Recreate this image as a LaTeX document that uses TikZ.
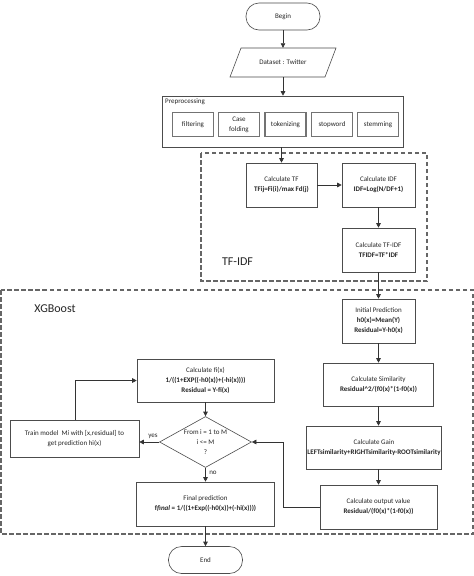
\documentclass[tikz,border=0pt]{standalone}
\usepackage{fontspec}
\setmainfont{Carlito}
\usetikzlibrary{arrows.meta,shapes.geometric,calc}
\newcommand\fsz{\fontsize{7}{10}\selectfont}
\begin{document}
\begin{tikzpicture}[x=1pt,y=-1pt,
  box/.style={draw=black!70, line width=0.6pt, fill=white, align=center, font=\fsz, inner sep=1pt, text=black!85},
  pbox/.style={draw=black!55, line width=1.5pt, fill=white, align=center, font=\fsz, inner sep=1pt, text=black!85, minimum width=41pt, minimum height=24pt},
  term/.style={draw=black!70, line width=0.6pt, fill=white, rounded corners=13pt, font=\fsz, minimum width=74pt, minimum height=27pt, text=black!85},
  dia/.style={draw=black!70, line width=0.6pt, fill=white, diamond, aspect=1.84, align=center, font=\fsz, inner sep=0pt, minimum width=92pt, minimum height=51pt, text=black!85},
  arr/.style={-{Triangle[length=4.5pt,width=4.5pt]}, draw=black!80, line width=0.6pt},
  grp/.style={draw=black!60, dash pattern=on 4.5pt off 2.5pt, line width=1.1pt},
  lab/.style={font=\fontsize{12}{14}\selectfont, text=black!85},
  small/.style={font=\fsz, text=black!85}
]
\useasboundingbox (0,0) rectangle (474,576);
\fill[white] (0,0) rectangle (474,576);

% groups
\draw[grp] (201,153) rectangle (427,281);
\draw[grp] (1,290) rectangle (473,534);
\node[lab] (tfidflab) at (237.5,262) {TF-IDF};
\node[lab] (xgblab) at (55,309) {XGBoost};

% top
\node[term] (begin) at (283,16.5) {Begin};
\draw[draw=black!70, line width=0.6pt, fill=white] (241,48)--(336,48)--(325,77)--(230,77)--cycle;
\node[small, minimum width=95pt, minimum height=29pt] (ds) at (283,62.5) {Dataset : Twitter};

\node[draw=black!70, line width=0.6pt, minimum width=241pt, minimum height=51pt] (pre) at (282.5,121.5) {};
\node[small, anchor=north west, inner sep=0pt] (prelab) at (165,98) {Preprocessing};
\node[pbox] (p1) at (193,124.5) {filtering};
\node[pbox] (p2) at (239,124.5) {Case\\folding};
\node[pbox] (p3) at (285.5,124.5) {tokenizing};
\node[pbox] (p4) at (332,124.5) {stopword};
\node[pbox] (p5) at (378,124.5) {stemming};

% TF-IDF
\node[box, minimum width=71pt, minimum height=44pt] (tf) at (281.5,185) {Calculate TF\\\textbf{TFij=Fi(i)/max Fd(j)}};
\node[box, minimum width=73pt, minimum height=44pt] (idf) at (378.5,185) {Calculate IDF\\\textbf{IDF=Log(N/DF+1)}};
\node[box, minimum width=73pt, minimum height=44pt] (tfidf) at (378.5,250) {Calculate TF-IDF\\\textbf{TFIDF=TF*IDF}};

% XGBoost right column
\node[box, minimum width=73pt, minimum height=44pt] (init) at (378.5,321) {Initial Prediction\\\textbf{h0(x)=Mean(Y)}\\\textbf{Residual=Y-h0(x)}};
\node[box, minimum width=110pt, minimum height=43pt] (sim) at (378.5,384.5) {Calculate Similarity\\\textbf{Residual\^{}2/(f0(x)*(1-f0(x))}};
\node[box, minimum width=124pt, minimum height=43pt] (gain) at (374,447.5) {Calculate Gain\\\textbf{LEFTsimilarity+RIGHTsimilarity-ROOTsimilarity}};
\node[box, minimum width=117pt, minimum height=44pt] (out) at (378.5,507) {Calculate output value\\\textbf{Residual/(f0(x)*(1-f0(x))}};

% XGBoost left
\node[box, minimum width=137pt, minimum height=43pt] (fi) at (205.5,380.5) {Calculate fi(x)\\\textbf{1/((1+EXP((-h0(x))+(-hi(x))))}\\\textbf{Residual = Y-fi(x)}};
\node[dia] (dec) at (205.5,442) {From i = 1 to M\\i <= M\\?};
\node[box, minimum width=129pt, minimum height=37pt] (train) at (74.5,438.5) {Train model \ M\textit{i} with [x,residual] to\\get prediction hi(x)};
\node[box, minimum width=138pt, minimum height=44pt] (final) at (205.5,504) {Final prediction\\\textbf{f\textit{final} = 1/((1+Exp((-h0(x))+(-hi(x))))}};
\node[term] (end) at (205.5,560) {End};

% connectors
\draw[arr] (begin) -- (ds);
\draw[arr] (ds.south) -- (pre.north -| ds.south);
\draw[arr] (pre.south -| tf.north) -- (tf.north);
\draw[arr] (tf) -- (idf);
\draw[arr] (idf) -- (tfidf);
\draw[arr] (tfidf) -- (init);
\draw[arr] (init) -- (sim);
\draw[arr] (sim.south) -- (gain.north -| sim.south);
\draw[arr] (gain.south -| out.north) -- (out.north);
\coordinate (turn) at (283,507);
\draw[arr] (out.west) -- (turn) |- (dec.east);
\draw[arr] (fi) -- (dec);
\draw[arr] (dec.west) -- (dec.west -| train.east);
\draw[arr] (train.north -| 75,0) |- (fi.west);
\draw[arr] (dec) -- (final);
\draw[arr] (final) -- (end);
\node[small] (yes) at (153,436) {yes};
\node[small] (no) at (213,473) {no};
\end{tikzpicture}
\end{document}
